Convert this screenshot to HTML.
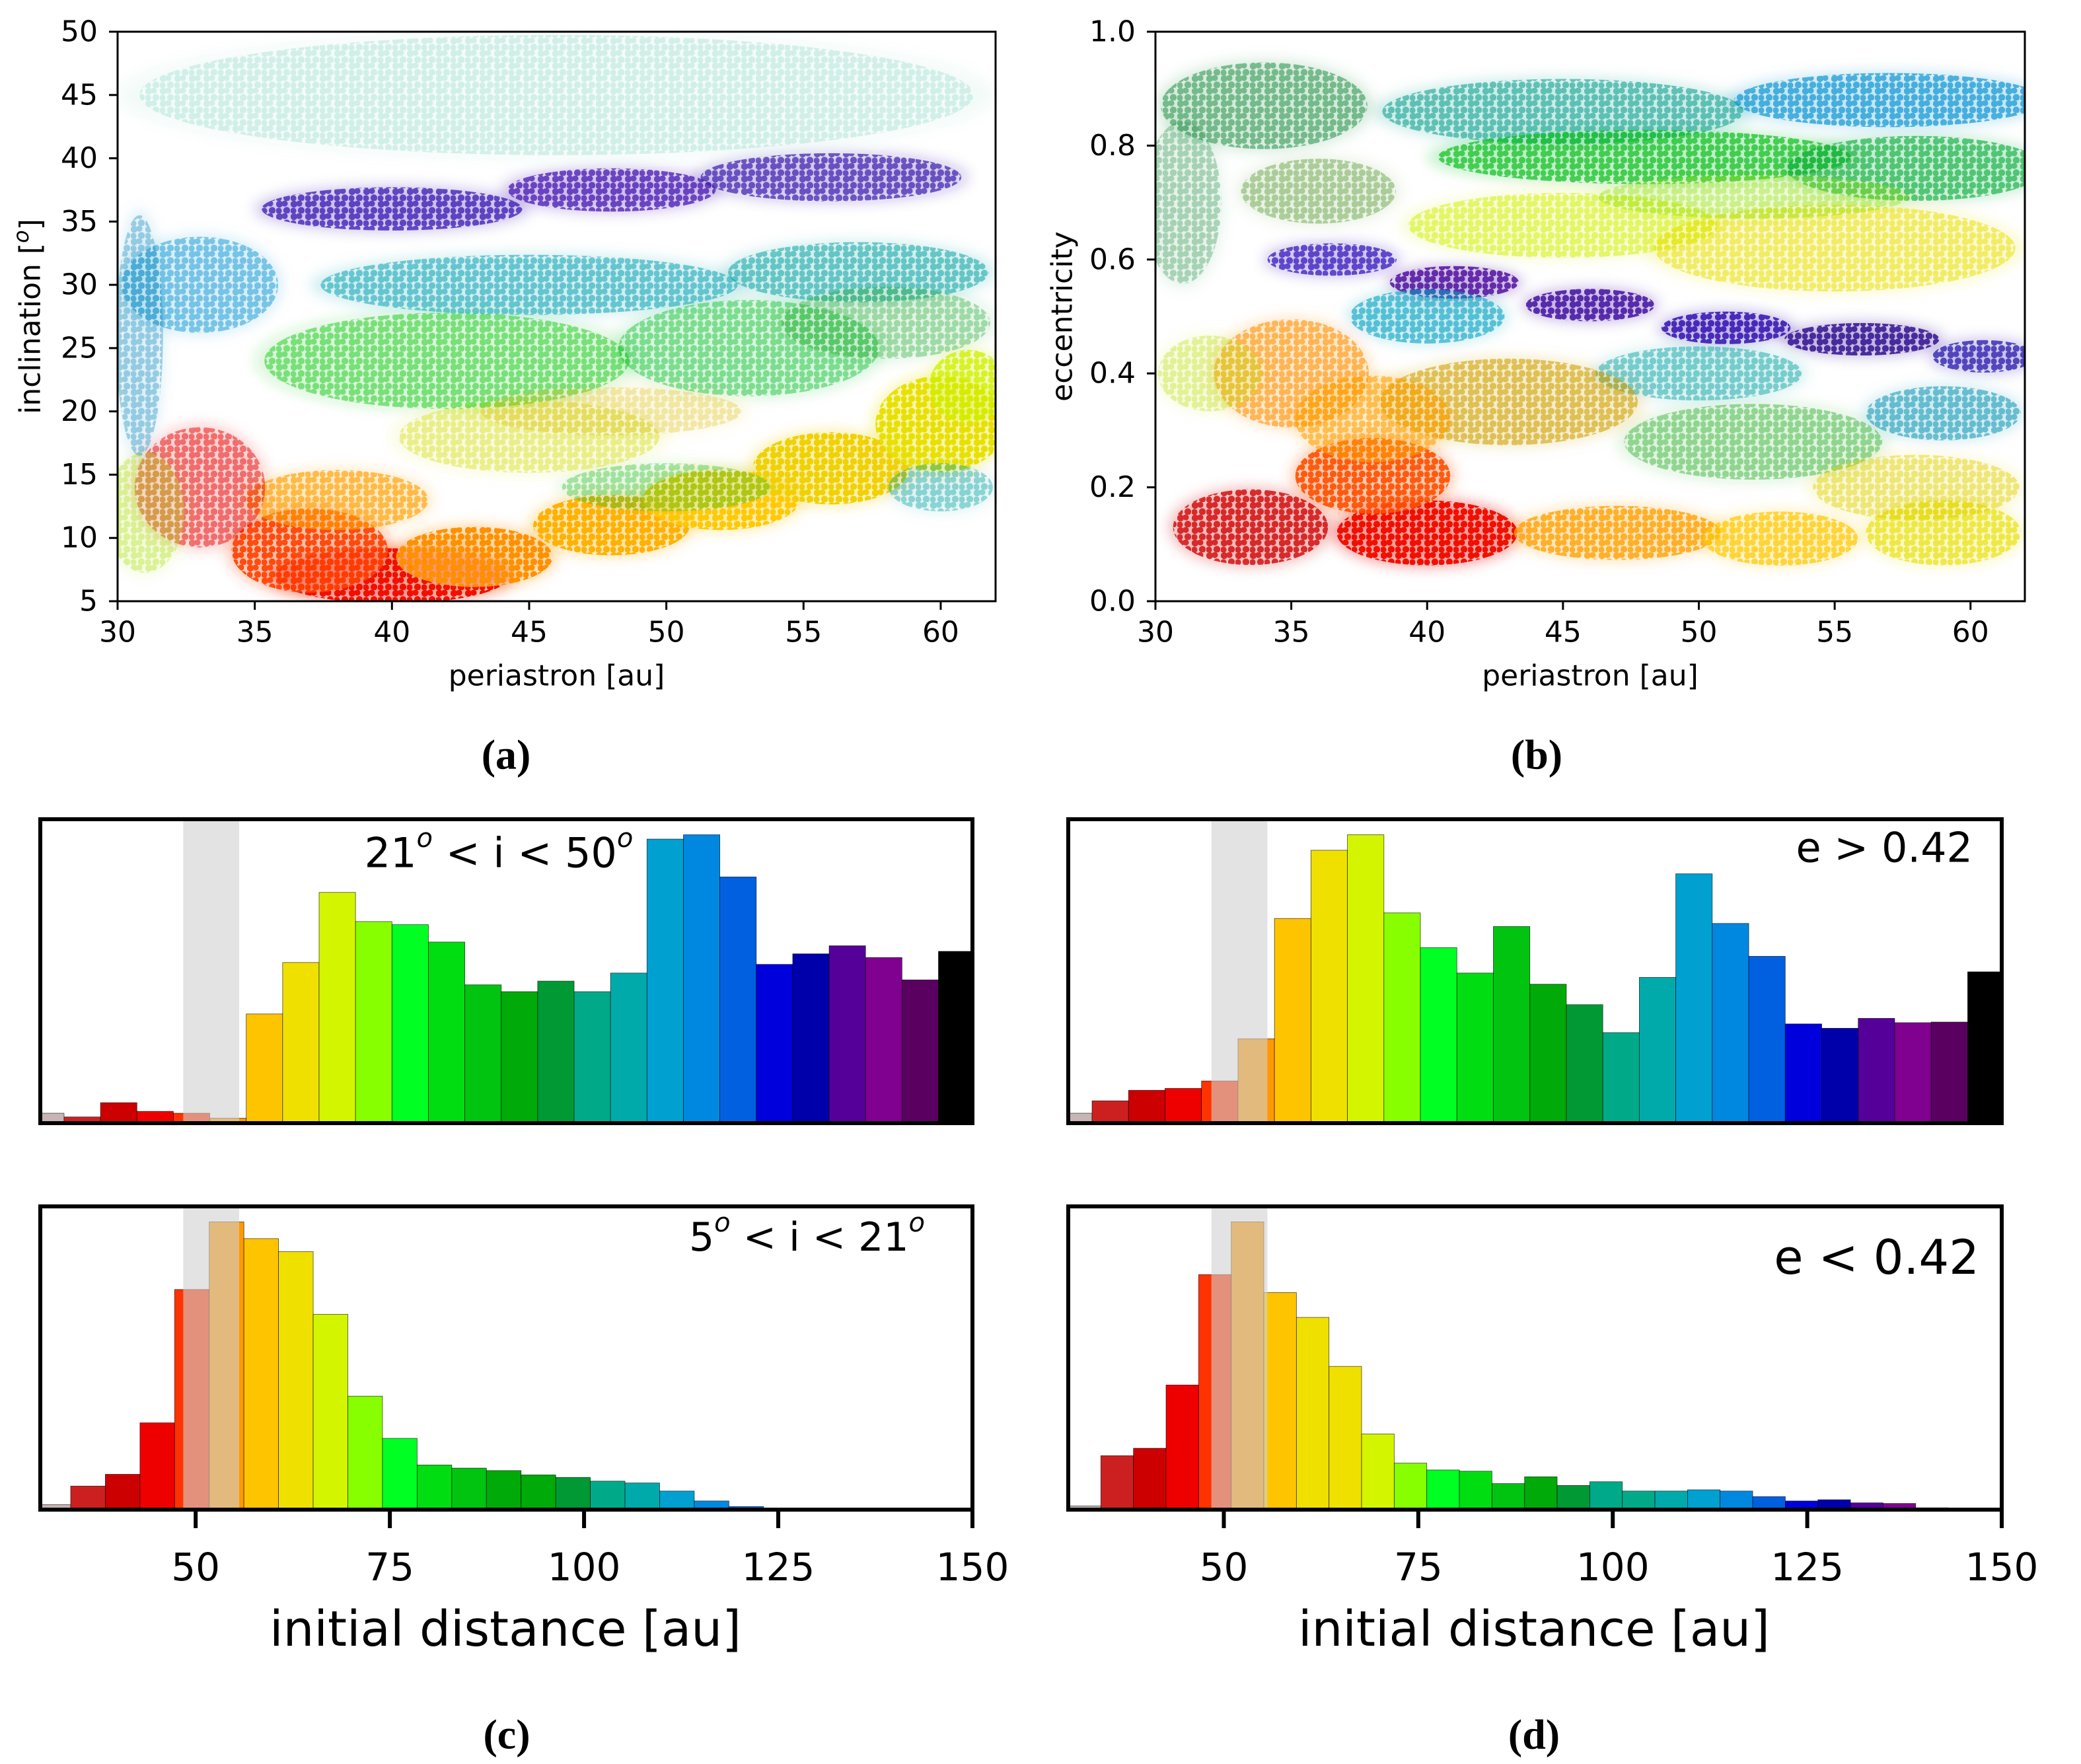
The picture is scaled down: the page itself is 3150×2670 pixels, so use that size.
<!DOCTYPE html>
<html><head><meta charset="utf-8">
<style>
html,body{margin:0;padding:0;background:#fff;}
svg{display:block;font-family:"DejaVu Sans","Liberation Sans",sans-serif;}
</style></head>
<body>
<svg id="fig" width="3150" height="2670" viewBox="0 0 3150 2670" xmlns="http://www.w3.org/2000/svg">
<defs id="defs">
<clipPath id="clipA"><rect x="178" y="48" width="1329" height="862"/></clipPath>
<clipPath id="clipB"><rect x="1749" y="48" width="1316" height="862"/></clipPath>
<filter id="soft" x="-20%" y="-20%" width="140%" height="140%"><feGaussianBlur stdDeviation="10"/></filter>
</defs>
<g id="root"></g>
</svg>
<script>
// ---------- Scatter (a): inclination vs periastron, density blobs ----------
const aBlobX  = [40, 37, 43, 38, 33, 48, 52, 56, 60, 61, 50, 45, 42, 53, 45, 57, 40, 48, 56, 33, 46, 31, 60, 30.8, 58, 48];
const aBlobY  = [7, 9, 8.5, 13, 14, 11, 13, 15.5, 19, 22, 14, 18, 24, 25, 30, 31, 36, 37.5, 38.5, 30, 45, 12, 14, 26, 27, 20];
const aBlobRX = [4.5, 3, 3, 3.5, 2.5, 3, 3, 3, 2.5, 1.5, 4, 5, 7, 5, 8, 5, 5, 4, 5, 3, 16, 1.5, 2, 0.9, 4, 5];
const aBlobRY = [2.3, 3.5, 2.5, 2.5, 5, 2.5, 2.5, 3, 4, 3, 2, 3, 4, 4, 2.5, 2.5, 1.8, 1.8, 2, 4, 5, 5, 2, 10, 3, 2];
const aBlobC  = ['#f01000','#ff4000','#ff9000','#ffa000','#e81010','#ffb000','#ffc800','#f0d000','#e8e000','#d0f000','#30c030','#d8e020','#20cc20','#10c030','#00a0b0','#00a0a0','#3010b0','#4010b0','#4020b0','#0090d0','#40c0a0','#b0e020','#00a0a0','#2090c0','#30b040','#e0c020'];
const aBlobA  = [0.9,0.7,0.8,0.5,0.4,0.75,0.75,0.75,0.75,0.6,0.3,0.35,0.4,0.35,0.4,0.4,0.55,0.55,0.55,0.35,0.15,0.3,0.3,0.3,0.3,0.25];
const aXTicks = [30,35,40,45,50,55,60];
const aYTicks = [5,10,15,20,25,30,35,40,45,50];

// ---------- Scatter (b): eccentricity vs periastron ----------
const bBlobX  = [34,45,57,48,58,45,55,36.5,41,46,51,56,60.5,40,50,59,43,52,35,40,38,33.5,47,53,59,58,31,32,38,36,52];
const bBlobY  = [0.87,0.86,0.88,0.78,0.76,0.66,0.62,0.6,0.56,0.52,0.48,0.46,0.43,0.5,0.4,0.33,0.35,0.28,0.4,0.12,0.22,0.13,0.12,0.11,0.12,0.2,0.7,0.4,0.32,0.72,0.71];
const bBlobRX = [4,7,6,8,5,6,7,2.5,2.5,2.5,2.5,3,2,3,4,3,5,5,3,3.5,3,3,4,3,3,4,1.5,2,3,3,6];
const bBlobRY = [0.08,0.06,0.05,0.05,0.06,0.06,0.08,0.03,0.03,0.03,0.03,0.03,0.03,0.05,0.05,0.05,0.08,0.07,0.1,0.06,0.07,0.07,0.05,0.05,0.06,0.06,0.15,0.07,0.08,0.06,0.04];
const bBlobC  = ['#40a060','#10a090','#0090d0','#10c020','#10b040','#d0f000','#e8e000','#4020c0','#5010a0','#4010a0','#3010b0','#301090','#3020b0','#00a0c0','#00a0a0','#0090b0','#d0a000','#30b030','#ff9000','#f01000','#ff5000','#d00000','#ffa000','#ffc800','#e8e000','#e0d000','#40a060','#c0e020','#ffa000','#60a040','#90e010'];
const bBlobA  = [0.5,0.45,0.5,0.55,0.5,0.4,0.4,0.6,0.65,0.65,0.65,0.65,0.6,0.45,0.35,0.4,0.45,0.35,0.45,0.85,0.7,0.6,0.6,0.55,0.5,0.35,0.3,0.3,0.45,0.35,0.3];
const bXTicks = [30,35,40,45,50,55,60];
const bYTicks = [0.0,0.2,0.4,0.6,0.8,1.0];

// ---------- Histograms ----------
const histXTicks = [50,75,100,125,150];
const cTopStart = 28.37, cTopWidth = 4.69;
const cTopCounts = [16,10,33,19,16,8,176,259,372,325,320,292,223,212,229,212,242,458,465,397,256,273,286,267,231,277];
const cBotStart = 29.45, cBotWidth = 4.46;
const cBotCounts = [8,38,57,140,355,464,437,416,315,183,115,72,67,63,56,52,46,43,30,14,5,1,0.5,0.5,0.5,0.5,0.5];
const dTopStart = 28.37, dTopWidth = 4.69;
const dTopCounts = [16,36,53,56,68,136,330,440,465,339,283,242,317,224,191,146,235,402,322,269,160,153,169,162,163,244];
const dBotStart = 30.0, dBotWidth = 4.19;
const dBotCounts = [6,87,99,201,379,464,350,310,231,122,75,64,62,42,53,39,45,30,30,32,30,21,14,16,11,10,3,1];
const cmapAu = [30.7,35.4,40.1,44.8,49.5,54.2,58.9,63.6,68.3,73,77.7,82.4,87.1,91.8,96.5,101.2,105.9,110.6,115.3,120,124.7,129.4,134.1,138.8,143.5,148.2];
const cmapC = ['#c8b4b4','#cc2020','#cc0000','#ee0000','#ff3300','#ff9900','#ffc400','#f0e000','#d4f500','#88ff00','#00ff22','#00dd11','#00c410','#00aa08','#009933','#00aa88','#00aaaa','#00a0d0','#0088e0','#0060e0','#0000dd','#0000aa','#550099','#800090','#5a0060','#000000'];
const grayBand = [48.4, 55.6];

const NS='http://www.w3.org/2000/svg';
const root=document.getElementById('root');
const defs=document.getElementById('defs');
function mk(tag,attrs,parent){const e=document.createElementNS(NS,tag);for(const k in attrs)e.setAttribute(k,attrs[k]);(parent||root).appendChild(e);return e;}
function txt(x,y,s,size,anchor,parent,extra){const t=mk('text',Object.assign({x:x,y:y,'font-size':size,'text-anchor':anchor||'middle','dominant-baseline':'central',fill:'#000'},extra||{}),parent);t.textContent=s;return t;}

const patIds={};
function dotPattern(color){
  if(patIds[color]) return patIds[color];
  const id='p'+Object.keys(patIds).length;
  const p=mk('pattern',{id:id,patternUnits:'userSpaceOnUse',width:22,height:19},defs);
  mk('circle',{cx:5,cy:5,r:5.2,fill:color},p);
  mk('circle',{cx:16,cy:14.5,r:5.2,fill:color},p);
  mk('circle',{cx:13,cy:4,r:4.6,fill:color},p);
  mk('circle',{cx:4,cy:15,r:4.6,fill:color},p);
  patIds[color]=id;return id;
}

function scatter(name,L,T,R,B,xmin,xmax,ymin,ymax,bx,by,brx,bry,bc,ba,xt,yt,yfmt,ylabel,clip,ylabX){
  const g=mk('g',{});
  
  
  const sx=v=>L+(v-xmin)/(xmax-xmin)*(R-L);
  const sy=v=>B-(v-ymin)/(ymax-ymin)*(B-T);
  const cg=mk('g',{'clip-path':'url(#'+clip+')'},g);
  const bg=mk('g',{filter:'url(#soft)'},cg);
  const dg=mk('g',{},cg);
  for(let i=0;i<bx.length;i++){
    const rx=Math.abs(sx(bx[i]+brx[i])-sx(bx[i])), ry=Math.abs(sy(by[i]+bry[i])-sy(by[i]));
    const e=mk('ellipse',{cx:sx(bx[i]),cy:sy(by[i]),rx:rx,ry:ry,fill:bc[i],'fill-opacity':ba[i]*0.45},bg);
    
    
    const d=mk('ellipse',{cx:sx(bx[i]),cy:sy(by[i]),rx:rx*0.95,ry:ry*0.95,fill:'url(#'+dotPattern(bc[i])+')','fill-opacity':Math.min(1,ba[i]*1.3)},dg);
    
    
  }
  const fr=mk('rect',{x:L,y:T,width:R-L,height:B-T,fill:'none',stroke:'#000','stroke-width':3},g);
  
  
  xt.forEach(v=>{
    mk('line',{x1:sx(v),x2:sx(v),y1:B,y2:B+13,stroke:'#000','stroke-width':3},g);
    const t=txt(sx(v),957,String(v),44,'middle',g);
    
    
  });
  yt.forEach(v=>{
    mk('line',{x1:L-13,x2:L,y1:sy(v),y2:sy(v),stroke:'#000','stroke-width':3},g);
    const t=txt(L-30,sy(v),yfmt(v),44,'end',g);
    
    
  });
  const xl=txt((L+R)/2,1023,'periastron [au]',44,'middle',g);
  
  
  const yl=txt(ylabX,(T+B)/2,'',44,'middle',g,{transform:'rotate(-90 '+ylabX+' '+((T+B)/2)+')'});
  yl.innerHTML=ylabel;
  
  
}
scatter('panel-a-scatter',178,48,1507,910,30,62,5,50,aBlobX,aBlobY,aBlobRX,aBlobRY,aBlobC,aBlobA,aXTicks,aYTicks,v=>String(v),'inclination [<tspan font-style="italic" font-size="32" dy="-14">o</tspan><tspan dy="14">]</tspan>','clipA',46);
scatter('panel-b-scatter',1749,48,3065,910,30,62,0,1,bBlobX,bBlobY,bBlobRX,bBlobRY,bBlobC,bBlobA,bXTicks,bYTicks,v=>v.toFixed(1),'eccentricity','clipB',1608);

function cmap(au){let best=0,bd=1e9;for(let i=0;i<cmapAu.length;i++){const d=Math.abs(cmapAu[i]-au);if(d<bd){bd=d;best=i;}}return cmapC[best];}
function hist(name,L,T,R,B,start,width,counts,ymax,label,labX,labY,labSize,labAnchor,showX,xlabX){
  const g=mk('g',{});
  
  
  const sx=v=>L+(v-30)/(150-30)*(R-L);
  const sy=v=>B-v/ymax*(B-T);
  counts.forEach((c,i)=>{
    const a=Math.max(30,start+i*width), b=Math.min(150,start+(i+1)*width);
    if(b<=a) return;
    const r=mk('rect',{x:sx(a),y:sy(c),width:sx(b)-sx(a),height:B-sy(c),fill:cmap((a+b)/2),stroke:'#000','stroke-width':0.8,'stroke-opacity':0.7},g);
    
    
  });
  const gb=mk('rect',{x:sx(grayBand[0]),y:T,width:sx(grayBand[1])-sx(grayBand[0]),height:B-T,fill:'#d0d0d0','fill-opacity':0.6},g);
  
  
  const fr=mk('rect',{x:L,y:T,width:R-L,height:B-T,fill:'none',stroke:'#000','stroke-width':6},g);
  
  
  const t=txt(labX,labY,'',labSize,labAnchor,g);
  t.innerHTML=label;
  
  
  if(showX){
    histXTicks.forEach(v=>{
      mk('line',{x1:sx(v),x2:sx(v),y1:B,y2:B+28,stroke:'#000','stroke-width':6},g);
      const tl=txt(sx(v),2372,String(v),58,'middle',g);
      
      
    });
    const xl=txt(xlabX,2466,'initial distance [au]',74,'middle',g);
    
    
  }
}
const sup=s=>'<tspan font-style="italic" font-size="40" dy="-22">'+s+'</tspan><tspan dy="22"> </tspan>';
hist('hist-c-top',61,1240,1472,1700,cTopStart,cTopWidth,cTopCounts,490,'21'+sup('o')+'&lt; i &lt; 50'+sup('o'),755,1291,62,'middle',false,0);
hist('hist-c-bottom',61,1826,1472,2285,cBotStart,cBotWidth,cBotCounts,489,'5'+sup('o')+'&lt; i &lt; 21'+sup('o'),1400,1873,60,'end',true,765);
hist('hist-d-top',1617,1240,3030,1700,dTopStart,dTopWidth,dTopCounts,490,'e &gt; 0.42',2986,1283,62,'end',false,0);
hist('hist-d-bottom',1617,1826,3030,2285,dBotStart,dBotWidth,dBotCounts,489,'e &lt; 0.42',2996,1903,72,'end',true,2322);

[['(a)',766,1142],['(b)',2326,1142],['(c)',767,2625],['(d)',2322,2625]].forEach(c=>{
  const t=txt(c[1],c[2],c[0],64,'middle',root,{'font-family':'"Liberation Serif",serif','font-weight':'bold'});
  
  
});
</script>
</body></html>
